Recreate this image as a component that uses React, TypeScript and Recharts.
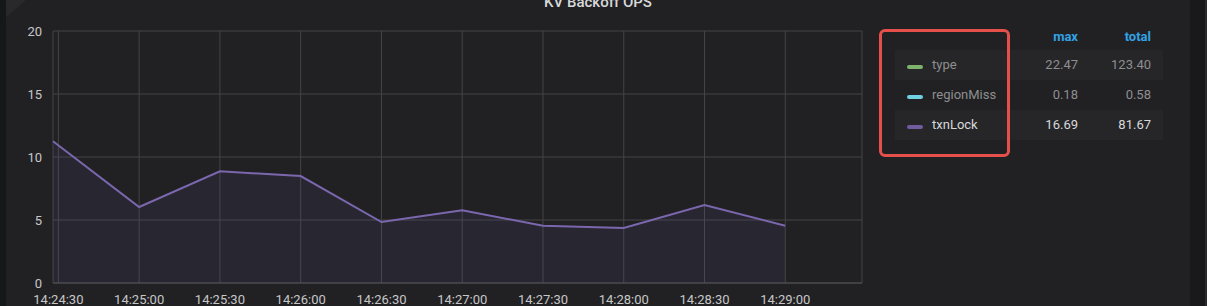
import React from "react";
import { AreaChart, Area, XAxis, YAxis, CartesianGrid } from "recharts";

// seconds relative to 14:24:30
const times = [-2, 30, 60, 90, 120, 150, 180, 210, 240, 270];
const txnLock = [11.25, 6.03, 8.86, 8.49, 4.84, 5.77, 4.55, 4.37, 6.19, 4.55];

const xTicks = [0, 30, 60, 90, 120, 150, 180, 210, 240, 270];
const xTickLabels = [
  "14:24:30",
  "14:25:00",
  "14:25:30",
  "14:26:00",
  "14:26:30",
  "14:27:00",
  "14:27:30",
  "14:28:00",
  "14:28:30",
  "14:29:00",
];
const yTicks = [0, 5, 10, 15, 20];

const legendNames = ["type", "regionMiss", "txnLock"];
const legendColors = ["#7eb26d", "#6ed0e0", "#705da0"];
const legendMax = ["22.47", "0.18", "16.69"];
const legendTotal = ["123.40", "0.58", "81.67"];
const legendHidden = [true, true, false];

const FONT = "Roboto, 'Noto Sans', sans-serif";

export default function App() {
  const data = times.map((t, i) => ({ t, txnLock: txnLock[i] }));

  return (
    <div
      style={{
        position: "absolute",
        left: 0,
        top: 0,
        width: 1207,
        height: 306,
        background: "#212124",
        overflow: "hidden",
        fontFamily: FONT,
      }}
    >
      {/* panel edges */}
      <div style={{ position: "absolute", left: 0, top: 0, width: 6, height: 306, background: "#161719" }} />
      <div
        style={{
          position: "absolute",
          left: 6,
          top: 0,
          width: 20,
          height: 17,
          background: "#29292c",
          clipPath: "polygon(0 0, 100% 0, 0 100%)",
        }}
      />
      <div style={{ position: "absolute", left: 1190, top: 0, width: 15, height: 306, background: "#19191b" }} />
      <div style={{ position: "absolute", left: 1205, top: 0, width: 2, height: 306, background: "#2a2a2d" }} />

      {/* title */}
      <div
        style={{
          position: "absolute",
          left: 0,
          width: 1196,
          top: -5,
          lineHeight: "14px",
          fontSize: 15,
          fontWeight: 500,
          color: "#d8d9da",
          textAlign: "center",
        }}
      >
        KV Backoff OPS
      </div>

      <div style={{ position: "absolute", left: 0, top: 0 }}>
        <AreaChart
          width={870}
          height={306}
          data={data}
          margin={{ top: 31, right: 8, bottom: 0, left: 8 }}
        >
          <CartesianGrid stroke="#444447" strokeWidth={1} />
          <XAxis
            dataKey="t"
            type="number"
            domain={[-2, 298.5]}
            ticks={xTicks}
            interval={0}
            height={23}
            tickFormatter={(v: number) => xTickLabels[xTicks.indexOf(v)] ?? ""}
            tick={{ fill: "#c7c7c7", fontSize: 13, fontFamily: FONT }}
            tickLine={false}
            axisLine={{ stroke: "#505053" }}
            tickMargin={6}
          />
          <YAxis
            type="number"
            domain={[0, 20]}
            ticks={yTicks}
            width={45}
            tick={{ fill: "#c7c7c7", fontSize: 13, fontFamily: FONT }}
            tickLine={false}
            axisLine={false}
            tickMargin={5}
          />
          <Area
            type="linear"
            dataKey="txnLock"
            stroke="#7a67ae"
            strokeWidth={2}
            fill="#705da0"
            fillOpacity={0.1}
            dot={false}
            activeDot={false}
            isAnimationActive={false}
          />
        </AreaChart>
      </div>

      {/* legend table */}
      <div
        style={{
          position: "absolute",
          left: 1030,
          width: 48,
          top: 29,
          textAlign: "right",
          fontSize: 13,
          fontWeight: 700,
          color: "#33a2e5",
          lineHeight: "16px",
        }}
      >
        max
      </div>
      <div
        style={{
          position: "absolute",
          left: 1100,
          width: 51,
          top: 29,
          textAlign: "right",
          fontSize: 13,
          fontWeight: 700,
          color: "#33a2e5",
          lineHeight: "16px",
        }}
      >
        total
      </div>
      {legendNames.map((name, i) => {
        const top = 50 + i * 30;
        const color = legendHidden[i] ? "#8e8e90" : "#d8d9da";
        return (
          <div
            key={name}
            style={{
              position: "absolute",
              left: 895,
              top,
              width: 268,
              height: 30,
              background: i % 2 === 0 ? "#262629" : "transparent",
              fontSize: 13,
              lineHeight: "30px",
              color,
            }}
          >
            <div
              style={{
                position: "absolute",
                left: 12,
                top: 15,
                width: 16,
                height: 4,
                borderRadius: 2,
                background: legendColors[i],
              }}
            />
            <div style={{ position: "absolute", left: 37, top: 0 }}>{name}</div>
            <div style={{ position: "absolute", left: 135, width: 48, top: 0, textAlign: "right" }}>
              {legendMax[i]}
            </div>
            <div style={{ position: "absolute", left: 205, width: 51, top: 0, textAlign: "right" }}>
              {legendTotal[i]}
            </div>
          </div>
        );
      })}

      {/* highlight box */}
      <div
        style={{
          position: "absolute",
          left: 879,
          top: 29,
          width: 131,
          height: 128,
          boxSizing: "border-box",
          border: "3px solid #e6504b",
          borderRadius: 6,
        }}
      />
    </div>
  );
}
